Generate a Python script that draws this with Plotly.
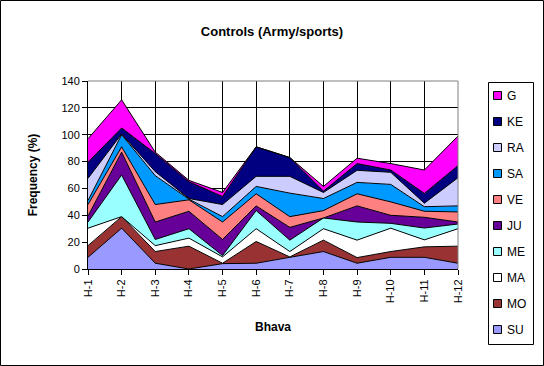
import plotly.graph_objects as go

categories = ["H-1", "H-2", "H-3", "H-4", "H-5", "H-6", "H-7", "H-8", "H-9", "H-10", "H-11", "H-12"]

SU = [8.7, 30.4, 4.3, 0.0, 4.0, 4.3, 8.7, 13.0, 4.3, 8.7, 8.7, 4.3]
MO = [8.7, 8.6, 8.7, 17.0, 0.3, 16.2, 0.3, 8.5, 4.2, 4.3, 7.8, 12.7]
MA = [13.0, 0.0, 4.4, 6.0, 4.7, 9.5, 4.0, 8.5, 13.0, 17.4, 5.2, 13.0]
ME = [4.6, 31.0, 4.6, 7.0, 1.0, 13.5, 8.5, 8.0, 13.5, 3.6, 8.8, 3.5]
JU = [4.5, 17.0, 13.0, 13.0, 12.0, 3.5, 9.5, 0.0, 12.0, 6.0, 8.0, 1.5]
VE = [8.5, 4.0, 13.0, 8.5, 13.0, 9.0, 8.0, 5.5, 9.0, 10.0, 4.5, 7.5]
SA = [3.0, 9.0, 21.5, 0.5, 4.0, 5.5, 17.5, 9.0, 8.5, 13.0, 3.4, 4.5]
RA = [16.5, 0.5, 3.0, 0.5, 9.0, 7.5, 12.5, 4.5, 9.0, 9.0, 2.6, 21.0]
KE = [12.0, 4.5, 13.5, 12.5, 6.0, 22.0, 14.0, 1.0, 5.0, 1.7, 7.3, 9.0]
G = [17.5, 21.0, 1.0, 1.0, 3.0, 0.0, 0.0, 3.5, 4.0, 4.8, 17.4, 22.0]

series_names = ["SU", "MO", "MA", "ME", "JU", "VE", "SA", "RA", "KE", "G"]
series_values = [SU, MO, MA, ME, JU, VE, SA, RA, KE, G]
series_colors = ["#9999FF", "#993333", "#FFFFFF", "#99FFFF", "#660099",
                 "#FF8080", "#0099FF", "#CCCCFF", "#000080", "#FF00FF"]

FONT = "Arial, Liberation Sans, sans-serif"
W, H = 544, 366
L, R, T, B = 88, 86, 81, 97
pw, ph = W - L - R, H - T - B

def px_x(px):
    return (px - L) / pw

def px_y(py):
    return (H - B - py) / ph

fig = go.Figure()
for name, vals, col in zip(series_names, series_values, series_colors):
    fig.add_trace(go.Scatter(
        x=categories, y=vals, name=name, stackgroup="one", mode="lines",
        line=dict(color="black", width=1), fillcolor=col, showlegend=False,
        hoverinfo="x+y+name"))

shapes = []
annotations = []
# plot area border (top/right gray)
shapes.append(dict(type="line", xref="paper", yref="paper", x0=0, x1=1, y0=1, y1=1,
                   line=dict(color="#808080", width=1), layer="above"))
shapes.append(dict(type="line", xref="paper", yref="paper", x0=1, x1=1, y0=0, y1=1,
                   line=dict(color="#808080", width=1), layer="above"))
# chart border
shapes.append(dict(type="rect", xref="paper", yref="paper",
                   x0=px_x(0.5), x1=px_x(543.5), y0=px_y(365.5), y1=px_y(0.5),
                   line=dict(color="black", width=1), layer="above"))
# legend box
lx0, lx1, ly0, ly1 = 488, 533, 82, 344
shapes.append(dict(type="rect", xref="paper", yref="paper",
                   x0=px_x(lx0 + 0.5), x1=px_x(lx1 + 0.5), y0=px_y(ly1 + 0.5), y1=px_y(ly0 + 0.5),
                   line=dict(color="black", width=1), fillcolor="white", layer="above"))
item_y0, item_gap = 95.5, 26.0
for i, (name, col) in enumerate(zip(series_names[::-1], series_colors[::-1])):
    cy = item_y0 + i * item_gap
    shapes.append(dict(type="rect", xref="paper", yref="paper",
                       x0=px_x(493.5), x1=px_x(501.5), y0=px_y(cy + 4), y1=px_y(cy - 4),
                       line=dict(color="black", width=1), fillcolor=col, layer="above"))
    annotations.append(dict(xref="paper", yref="paper", x=px_x(505), y=px_y(cy),
                            xanchor="left", yanchor="middle", text=name, showarrow=False,
                            font=dict(family=FONT, size=12, color="black")))

fig.update_layout(
    width=W, height=H,
    margin=dict(l=L, r=R, t=T, b=B, pad=0),
    paper_bgcolor="white", plot_bgcolor="white",
    title=dict(text="<b>Controls (Army/sports)</b>", x=272 / W, xanchor="center",
               y=1 - 31 / H, yanchor="middle",
               font=dict(family=FONT, size=13, color="black")),
    font=dict(family=FONT, size=11, color="black"),
    shapes=shapes, annotations=annotations,
    xaxis=dict(
        type="category", range=[0, len(categories) - 1],
        showgrid=True, gridcolor="black", gridwidth=1,
        showline=True, linecolor="black", linewidth=1,
        ticks="outside", ticklen=5, tickcolor="black",
        tickangle=-90, tickfont=dict(family=FONT, size=11, color="black"),
        title=dict(text="<b>Bhava</b>", standoff=20,
                   font=dict(family=FONT, size=12, color="black")),
    ),
    yaxis=dict(
        range=[0, 140], dtick=20, tick0=0,
        showgrid=True, gridcolor="black", gridwidth=1,
        showline=True, linecolor="black", linewidth=1,
        ticks="outside", ticklen=5, tickcolor="black",
        tickfont=dict(family=FONT, size=11, color="black"),
        zeroline=False,
        title=dict(text="<b>Frequency (%)</b>", standoff=21,
                   font=dict(family=FONT, size=12, color="black")),
    ),
)

fig.write_html("out.html", config={"displayModeBar": False},
               post_script="document.body.style.margin='0';")
